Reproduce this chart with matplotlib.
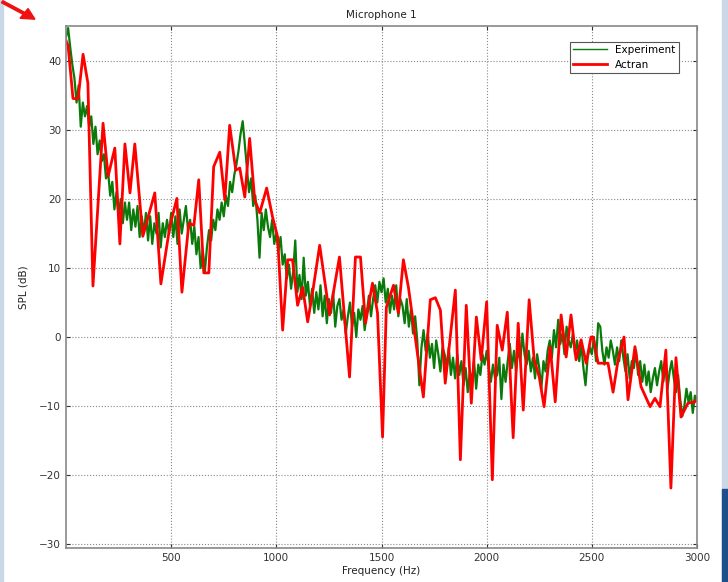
import numpy as np
import matplotlib
matplotlib.use("Agg")
import matplotlib.pyplot as plt
from matplotlib.patches import Rectangle, FancyArrow

# --- DATA ---
# Experiment: SPL every 10 Hz, 0..3000 Hz
exp_freq = np.arange(0, 3001, 10)
exp_spl = [
    43.5, 44.8, 42.0, 39.5, 37.5, 34.0, 36.5, 30.5, 34.0, 32.0,
    33.5, 30.5, 32.0, 28.0, 30.5, 26.5, 28.5, 25.5, 26.5, 23.0,
    24.0, 20.5, 22.5, 18.5, 21.0, 17.5, 20.0, 16.5, 19.5, 17.0,
    19.5, 15.5, 18.5, 16.0, 19.0, 14.5, 17.5, 15.0, 18.0, 14.0,
    17.5, 13.5, 16.5, 15.0, 18.0, 13.0, 16.5, 14.5, 17.0, 15.0,
    18.0, 14.5, 17.5, 13.5, 18.5, 15.0, 17.0, 19.0, 15.5, 17.0,
    13.5, 16.0, 12.0, 14.5, 10.0, 12.5, 9.5, 13.0, 15.5, 14.0,
    17.0, 15.5, 18.5, 17.0, 19.5, 17.5, 20.5, 19.0, 22.5, 21.0,
    23.5, 25.0, 27.0, 29.5, 31.3, 28.0, 24.5, 21.0, 23.0, 19.0,
    20.5, 17.0, 11.5, 18.0, 15.5, 18.5, 16.0, 14.5, 17.0, 13.5,
    15.0, 12.5, 14.5, 10.5, 12.0, 8.5, 10.5, 7.0, 9.5, 14.0,
    6.5, 9.0, 5.5, 11.5, 6.0, 8.0, 4.5, 7.0, 3.5, 6.5,
    4.0, 7.5, 3.0, 6.0, 2.0, 5.5, 3.5, 6.5, 1.5, 4.5,
    5.5, 2.5, 4.0, 0.5, 3.0, 5.0, 1.5, 3.5, 0.0, 4.0,
    2.5, 4.5, 1.0, 3.5, 6.0, 3.0, 5.5, 7.5, 5.0, 8.0,
    6.5, 8.5, 5.0, 7.0, 3.5, 6.0, 4.0, 7.5, 3.0, 5.5,
    4.5, 2.0, 5.5, 1.5, 4.0, 0.5, 3.0, -0.5, -7.0, -1.5,
    1.0, -2.0, 0.5, -3.0, -1.0, -4.5, -0.5, -2.5, -5.0, -1.5,
    -2.5, -4.5, -1.5, -5.5, -3.0, -6.0, -2.5, -5.5, -3.5, -7.0,
    -4.5, -8.0, -5.0, -6.5, -3.5, -7.5, -4.0, -5.5, -2.5, -4.0,
    -2.0, -4.5, -6.5, -4.0, -6.0, -5.5, -3.0, -9.0, -4.0, -6.5,
    -3.5, -1.0, -4.5, -2.0, -5.0, -1.5, -3.5, 0.5, -2.5, -4.0,
    -2.0, -5.0, -3.0, -6.0, -2.5, -4.5, -7.5, -3.5, -5.0, -2.0,
    -0.5, -3.0, 1.0, -1.5, 2.5, -1.0, 0.5, -2.5, 1.5, -0.5,
    -1.5, 0.5, -2.5, -0.5, -3.5, -1.0, -4.5, -7.0, -3.0, -1.5,
    -2.5, 0.0, -3.5, 2.0, 1.5, -2.0, -4.0, -1.5, -3.0, -0.5,
    -2.0, -4.0, -1.5, -3.5, -0.5, -3.0, -5.0, -2.5, -6.0, -3.5,
    -4.5, -2.0, -5.5, -3.5, -6.5, -4.0, -7.0, -5.0, -8.0, -6.0,
    -4.5, -7.0, -5.0, -3.5, -6.5, -4.0, -7.5, -5.0, -3.5, -6.0,
    -8.0, -5.5, -9.0, -11.5, -10.0, -7.5, -9.5, -8.0, -11.0, -8.5,
    -9.0,
]

# Actran: simulated SPL at the vertices of the red curve
act_freq = [0, 10, 33, 57, 81, 104, 128, 176, 200, 232, 256, 280, 304, 327,
            365, 422, 451, 494, 527, 551, 584, 608, 631, 655, 679, 702, 731,
            755, 778, 807, 826, 850, 873, 897, 921, 954, 982, 1006, 1030,
            1054, 1077, 1101, 1125, 1149, 1172, 1206, 1253, 1300, 1348, 1376,
            1400, 1424, 1457, 1481, 1505, 1523, 1557, 1580, 1604, 1628, 1699,
            1732, 1756, 1780, 1803, 1851, 1875, 1903, 1927, 1951, 1974, 2000,
            2027, 2050, 2074, 2098, 2126, 2150, 2174, 2202, 2226, 2250, 2273,
            2302, 2326, 2354, 2378, 2401, 2425, 2449, 2473, 2496, 2506, 2530,
            2577, 2601, 2625, 2653, 2672, 2705, 2734, 2777, 2800, 2824, 2852,
            2876, 2900, 2924, 2957, 2990, 3000]
act_spl = [43.0, 42.2, 34.6, 34.5, 41.0, 36.8, 7.4, 31.0, 23.3, 27.4, 13.5,
           28.0, 20.9, 28.0, 14.6, 20.9, 7.7, 16.1, 20.1, 6.5, 16.5, 16.2,
           22.8, 9.3, 9.3, 24.7, 26.8, 19.9, 30.7, 24.2, 24.5, 20.3, 28.8,
           19.9, 18.0, 21.6, 17.4, 14.5, 1.0, 11.2, 11.2, 4.6, 7.2, 2.2, 6.4,
           13.3, 3.2, 11.6, -5.8, 11.6, 11.6, 2.0, 7.8, 3.5, -14.5, 4.3, 7.5,
           3.5, 11.2, 7.2, -8.7, 5.4, 5.7, 3.9, -6.7, 6.8, -17.8, 4.6, -9.6,
           2.9, -3.3, 5.1, -20.7, 1.7, -1.9, 3.6, -14.6, 2.0, -10.6, 5.4,
           -3.3, -5.8, -10.1, -1.4, -9.4, 3.2, -2.9, 3.2, -3.3, -0.4, -3.8,
           0.0, 0.0, -3.8, -3.8, -8.0, -3.3, 0.0, -9.1, -1.4, -7.2, -10.1,
           -8.9, -10.1, -1.9, -21.9, -3.0, -11.6, -9.6, -9.4, -9.0]

x_ticks = [500, 1000, 1500, 2000, 2500, 3000]
y_ticks = [-30, -20, -10, 0, 10, 20, 30, 40]

# --- FIGURE ---
fig = plt.figure(figsize=(7.28, 5.82), dpi=100)
ax = fig.add_axes([0.0907, 0.0584, 0.8667, 0.8969])

ax.plot(exp_freq, exp_spl, color='#0a7a0a', lw=1.6, label='Experiment')
ax.plot(act_freq, act_spl, color='#ff0000', lw=2.0, label='Actran')

ax.set_xlim(0, 3000)
ax.set_ylim(-30.6, 45.1)
ax.set_xticks(x_ticks)
ax.set_yticks(y_ticks)
ax.tick_params(direction='in', labelsize=7.5, colors='#333333', length=3,
               top=True, right=True)
ax.grid(True, linestyle=':', color='#888888', lw=0.8)
for sp in ax.spines.values():
    sp.set_color('#888888')
    sp.set_linewidth(1.2)

ax.set_title("Microphone 1", fontsize=7.5, color='#222222', pad=6)
ax.set_xlabel("Frequency (Hz)", fontsize=7.5, color='#222222', labelpad=2)
ax.set_ylabel("SPL (dB)", fontsize=7.5, color='#222222', labelpad=8)

leg = ax.legend(loc='upper right', fontsize=7.5, fancybox=False,
                framealpha=1, edgecolor='#555555', borderpad=0.3,
                handlelength=3.2, bbox_to_anchor=(0.979, 0.98))
leg.get_frame().set_linewidth(0.8)
leg.get_lines()[0].set_linewidth(1.0)

# screenshot frame bits: slide edge strips and the red pointer arrow
fig.patches.append(Rectangle((0, 0), 0.004, 1, transform=fig.transFigure,
                             color='#c9d7e6', zorder=0))
fig.patches.append(Rectangle((0.992, 0), 0.008, 1, transform=fig.transFigure,
                             color='#c9d7e6', zorder=0))
fig.patches.append(Rectangle((0.992, 0), 0.008, 0.16, transform=fig.transFigure,
                             color='#1d4f8c', zorder=0))
fig.patches.append(FancyArrow(0.003, 0.997, 0.045, -0.03, width=0.004,
                              head_width=0.02, head_length=0.018,
                              transform=fig.transFigure, color='#ee1111',
                              length_includes_head=True))

plt.savefig("out.png", dpi=100)
